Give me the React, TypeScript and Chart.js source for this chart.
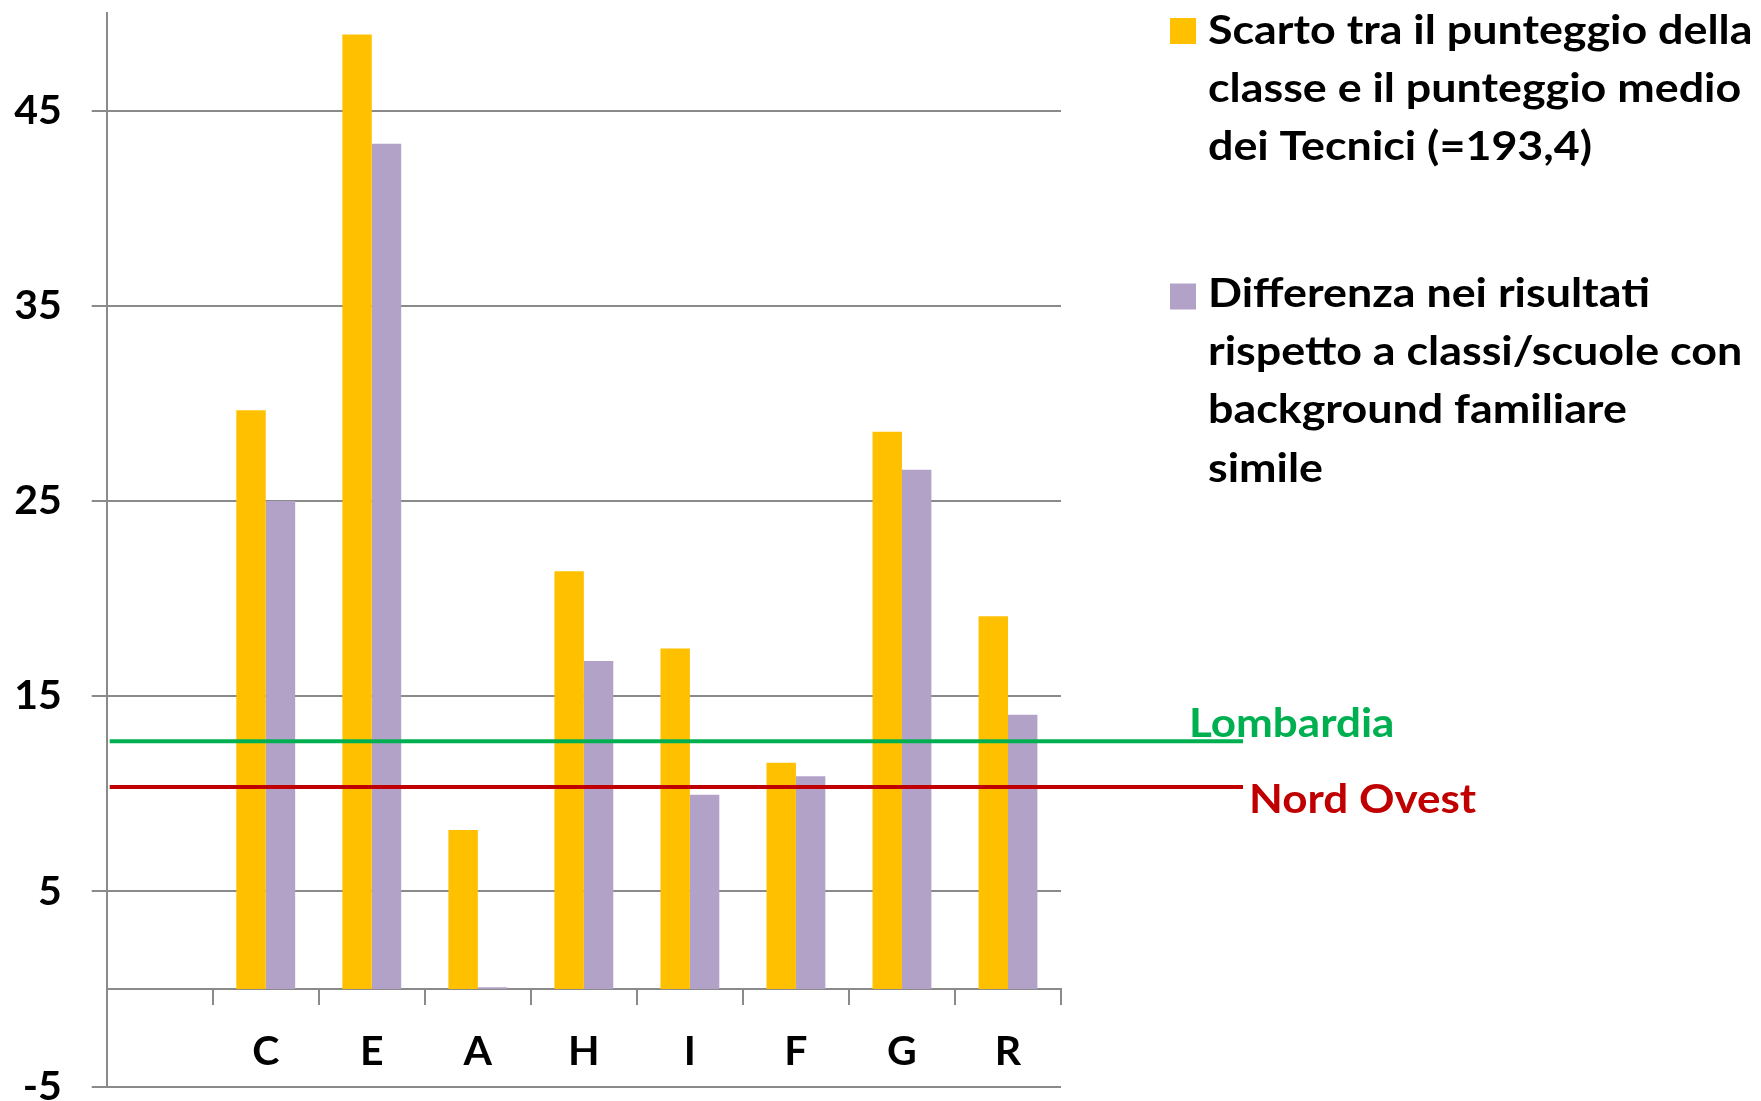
import React, { useEffect, useRef } from "react";
import { Chart, registerables } from "chart.js";

Chart.register(...registerables);

// ---- Data ----
const categories = ["", "C", "E", "A", "H", "I", "F", "G", "R"];
const scartoValues = [null, 29.65, 48.9, 8.15, 21.4, 17.45, 11.6, 28.55, 19.1];
const differenzaValues = [null, 25.0, 43.3, 0.1, 16.8, 9.95, 10.9, 26.6, 14.05];
const yTickValues = [-5, 5, 15, 25, 35, 45];
const yMin = -5;
const yMax = 50;
const seriesNames = [
  "Scarto tra il punteggio della classe e il punteggio medio dei Tecnici (=193,4)",
  "Differenza nei risultati rispetto a classi/scuole con background familiare simile",
];
const legendLines = [
  ["Scarto tra il punteggio della", "classe e il punteggio medio", "dei Tecnici (=193,4)"],
  ["Differenza nei risultati", "rispetto a classi/scuole con", "background familiare", "simile"],
];
const seriesColors = ["#FFC000", "#B3A2C7"];
const refLabels = ["Lombardia", "Nord Ovest"];
const refValues = [12.7, 10.35];
const refColors = ["#00B050", "#C00000"];

const FONT = "Lato, 'Open Sans', sans-serif";
const GRID = "#8a8a8a";

function drawStretched(ctx: any, text: string, x: number, y: number, sx: number) {
  ctx.save();
  ctx.translate(x, y);
  ctx.scale(sx, 1);
  ctx.fillText(text, 0, 0);
  ctx.restore();
}

const refLinesPlugin = {
  id: "refLines",
  afterDatasetsDraw(chart: any, _args: any, opts: any) {
    const { ctx, chartArea, scales } = chart;
    ctx.save();
    refValues.forEach((v, i) => {
      const y = scales.y.getPixelForValue(v);
      ctx.strokeStyle = refColors[i];
      ctx.lineWidth = opts.lineWidth;
      ctx.beginPath();
      ctx.moveTo(chartArea.left + opts.startGap, y);
      ctx.lineTo(opts.lineEnd, y);
      ctx.stroke();
      ctx.fillStyle = refColors[i];
      ctx.font = `bold ${opts.fontSize}px ${FONT}`;
      ctx.textAlign = "left";
      ctx.textBaseline = "alphabetic";
      drawStretched(ctx, refLabels[i], opts.labelX[i], y + opts.labelDy[i], opts.stretch);
    });
    ctx.restore();
  },
};

const sideLegendPlugin = {
  id: "sideLegend",
  afterDraw(chart: any, _args: any, opts: any) {
    const { ctx } = chart;
    ctx.save();
    ctx.font = `bold ${opts.fontSize}px ${FONT}`;
    ctx.textAlign = "left";
    ctx.textBaseline = "alphabetic";
    legendLines.forEach((lines, i) => {
      ctx.fillStyle = seriesColors[i];
      ctx.fillRect(opts.boxX, opts.boxY[i], opts.boxSize, opts.boxSize);
      ctx.fillStyle = "#000";
      lines.forEach((line, j) => {
        drawStretched(ctx, line, opts.textX, opts.firstBaseline[i] + j * opts.lineHeight, opts.stretch);
      });
    });
    ctx.restore();
  },
};

export default function App() {
  const canvasRef = useRef<HTMLCanvasElement | null>(null);

  useEffect(() => {
    let chart: Chart | null = null;
    let cancelled = false;
    const create = () => {
      if (cancelled || !canvasRef.current) return;
      const tickFont = { family: FONT, weight: "bold" as const, size: 41 };
      chart = new Chart(canvasRef.current, {
        type: "bar",
        data: {
          labels: categories,
          datasets: [
            {
              label: seriesNames[0],
              data: scartoValues,
              backgroundColor: seriesColors[0],
              borderWidth: 0,
              categoryPercentage: 0.555,
              barPercentage: 1,
            },
            {
              label: seriesNames[1],
              data: differenzaValues,
              backgroundColor: seriesColors[1],
              borderWidth: 0,
              categoryPercentage: 0.555,
              barPercentage: 1,
            },
          ],
        },
        options: {
          responsive: false,
          animation: false,
          layout: { padding: { left: 0, top: 13, right: 700, bottom: 14.3 } },
          plugins: {
            legend: { display: false },
            tooltip: { enabled: false },
            refLines: {
              lineWidth: 4,
              startGap: 3,
              lineEnd: 1243,
              fontSize: 40,
              labelX: [1189, 1249],
              labelDy: [-4, 26],
              stretch: 1.1,
            },
            sideLegend: {
              fontSize: 40,
              boxX: 1170,
              boxY: [18, 283.5],
              boxSize: 26,
              textX: 1208,
              firstBaseline: [43.5, 306.7],
              lineHeight: 58.3,
              stretch: 1.12,
            },
          } as any,
          scales: {
            x: {
              position: { y: 0 } as any,
              offset: true,
              grid: {
                offset: true,
                drawOnChartArea: false,
                drawTicks: true,
                tickLength: 15,
                color: GRID,
                lineWidth: 2,
              },
              border: { display: true, color: GRID, width: 2 },
              ticks: {
                color: "#000",
                font: tickFont,
                padding: 23,
                maxRotation: 0,
                autoSkip: false,
              },
              afterFit: (s: any) => {
                s.paddingLeft = 0;
                s.paddingRight = 0;
              },
            },
            y: {
              min: yMin,
              max: yMax,
              afterBuildTicks: (s: any) => {
                s.ticks = yTickValues.map((v) => ({ value: v }));
              },
              afterFit: (s: any) => {
                s.width = 106.7;
                s.paddingTop = 0;
                s.paddingBottom = 0;
              },
              grid: {
                color: GRID,
                lineWidth: 2,
                tickLength: 15,
                drawTicks: true,
              },
              border: { display: true, color: GRID, width: 2 },
              ticks: {
                color: "#000",
                font: tickFont,
                padding: 30,
              },
            },
          },
        },
        plugins: [refLinesPlugin, sideLegendPlugin],
      });
    };
    const fontsReady = (document as any).fonts
      ? Promise.all([(document as any).fonts.load(`bold 40px Lato`)]).catch(() => null)
      : Promise.resolve(null);
    fontsReady.then(create);
    return () => {
      cancelled = true;
      if (chart) chart.destroy();
    };
  }, []);

  return (
    <div style={{ position: "absolute", left: 0, top: 0, width: 1761, height: 1101, background: "#fff" }}>
      <canvas ref={canvasRef} width={1761} height={1101} style={{ display: "block" }} />
    </div>
  );
}
